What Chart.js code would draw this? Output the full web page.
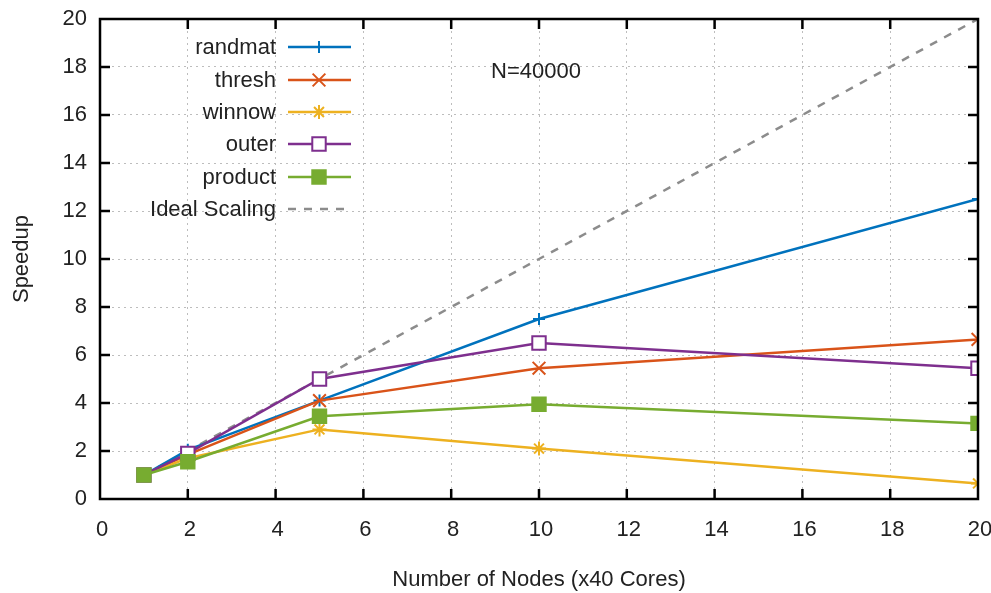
<!DOCTYPE html>
<html>
<head>
<meta charset="utf-8">
<script src="https://cdn.jsdelivr.net/npm/chart.js@4.4.0/dist/chart.umd.min.js"></script>
<style>
  html, body { margin: 0; padding: 0; background: #fff; }
  #wrap { width: 991px; height: 593px; }
</style>
</head>
<body>
<div id="wrap"><canvas id="chart" width="991" height="593"></canvas></div>
<script>
const nodes = [1, 2, 5, 10, 20]
const randmat = [1, 2.05, 4.1, 7.5, 12.5]
const thresh = [1, 1.85, 4.1, 5.45, 6.65]
const winnow = [1, 1.7, 2.9, 2.1, 0.65]
const outer = [1, 1.9, 5.0, 6.5, 5.45]
const product = [1, 1.55, 3.45, 3.95, 3.15]
const ideal = [1, 2, 5, 10, 20]

const seriesNames = ['randmat', 'thresh', 'winnow', 'outer', 'product', 'Ideal Scaling']
const annotation = 'N=40000'

const FONT = "'Liberation Sans', Arial, sans-serif"
const FSIZE = 22

const toPoints = (vals) => vals.map((v, i) => ({ x: nodes[i], y: v }))

const datasets = [
    { label: seriesNames[0], data: toPoints(randmat), borderColor: '#0072bd', backgroundColor: '#0072bd', pointStyle: 'cross', pointRadius: 6, order: 5 },
    { label: seriesNames[1], data: toPoints(thresh), borderColor: '#d95319', backgroundColor: '#d95319', pointStyle: 'crossRot', pointRadius: 9, order: 4 },
    { label: seriesNames[2], data: toPoints(winnow), borderColor: '#edb120', backgroundColor: '#edb120', pointStyle: 'star', pointRadius: 7, order: 3 },
    { label: seriesNames[3], data: toPoints(outer), borderColor: '#7e2f8e', backgroundColor: '#ffffff', pointStyle: 'rect', pointRadius: 9.5, order: 2 },
    { label: seriesNames[4], data: toPoints(product), borderColor: '#77ac30', backgroundColor: '#77ac30', pointStyle: 'rect', pointRadius: 9.5, order: 1 },
    { label: seriesNames[5], data: toPoints(ideal), borderColor: '#8c8c8c', backgroundColor: '#8c8c8c', borderDash: [8, 8], pointRadius: 0, order: 6 }
]
datasets.forEach(d => {
    d.borderWidth = 2.5
    d.pointBorderWidth = 2
    d.pointHoverRadius = d.pointRadius
})

// gnuplot style frame, inward ticks, legend and label
const framePlugin = {
    id: 'frame',
    afterDatasetsDraw(chart) {
        const ctx = chart.ctx
        const a = chart.chartArea
        const xs = chart.scales.x
        const ys = chart.scales.y
        ctx.save()
        ctx.strokeStyle = '#000'
        ctx.lineWidth = 2.5
        ctx.beginPath()
        for (let v = 2; v < 20; v += 2) {
            const px = xs.getPixelForValue(v)
            ctx.moveTo(px, a.bottom); ctx.lineTo(px, a.bottom - 10)
            ctx.moveTo(px, a.top); ctx.lineTo(px, a.top + 10)
            const py = ys.getPixelForValue(v)
            ctx.moveTo(a.left, py); ctx.lineTo(a.left + 10, py)
            ctx.moveTo(a.right, py); ctx.lineTo(a.right - 10, py)
        }
        ctx.stroke()
        ctx.strokeRect(a.left, a.top, a.right - a.left, a.bottom - a.top)

        // legend
        ctx.font = FSIZE + 'px ' + FONT
        ctx.textBaseline = 'middle'
        ctx.textAlign = 'right'
        const rowY = [47, 80, 112, 144, 177, 209]
        datasets.forEach((d, i) => {
            const y = rowY[i]
            ctx.fillStyle = '#222'
            ctx.fillText(d.label, 276, y + 1)
            ctx.save()
            ctx.strokeStyle = d.borderColor
            ctx.lineWidth = 2.5
            if (d.borderDash) ctx.setLineDash(d.borderDash)
            ctx.beginPath()
            ctx.moveTo(288, y); ctx.lineTo(351, y)
            ctx.stroke()
            ctx.restore()
            if (d.pointRadius) {
                ctx.save()
                ctx.strokeStyle = d.borderColor
                ctx.fillStyle = d.backgroundColor
                ctx.lineWidth = 2
                Chart.helpers.drawPoint(ctx, { pointStyle: d.pointStyle, radius: d.pointRadius, borderWidth: 2, rotation: 0 }, 319, y)
                ctx.restore()
            }
        })

        ctx.textAlign = 'left'
        ctx.fillStyle = '#222'
        ctx.fillText(annotation, 491, 72)
        ctx.restore()
    }
}

new Chart('chart', {
    type: 'line',
    data: { datasets: datasets },
    options: {
        responsive: false,
        animation: false,
        layout: { padding: { top: 19, right: 13, left: 0, bottom: 0 } },
        plugins: { legend: { display: false }, tooltip: { enabled: false } },
        scales: {
            x: {
                type: 'linear',
                min: 0,
                max: 20,
                ticks: { stepSize: 2, color: '#222', padding: 18, labelOffset: 2, font: { size: FSIZE, family: FONT } },
                grid: { color: '#bdbdbd', drawTicks: false, lineWidth: 1 },
                border: { display: false, dash: [2, 4] },
                title: { display: true, text: 'Number of Nodes (x40 Cores)', color: '#222', font: { size: FSIZE, family: FONT }, padding: { top: 0, bottom: 0 } },
                afterFit: (scale) => {
                    scale.height = 94
                    scale.paddingLeft = 0
                    scale.paddingRight = 0
                }
            },
            y: {
                min: 0,
                max: 20,
                ticks: { stepSize: 2, color: '#222', padding: 13, font: { size: FSIZE, family: FONT } },
                grid: { color: '#bdbdbd', drawTicks: false, lineWidth: 1 },
                border: { display: false, dash: [2, 4] },
                title: { display: true, text: 'Speedup', color: '#222', font: { size: FSIZE, family: FONT }, padding: { top: 9, bottom: 0 } },
                afterFit: (scale) => {
                    scale.width = 100
                    scale.paddingTop = 0
                    scale.paddingBottom = 0
                }
            }
        }
    },
    plugins: [framePlugin]
})
</script>
</body>
</html>
